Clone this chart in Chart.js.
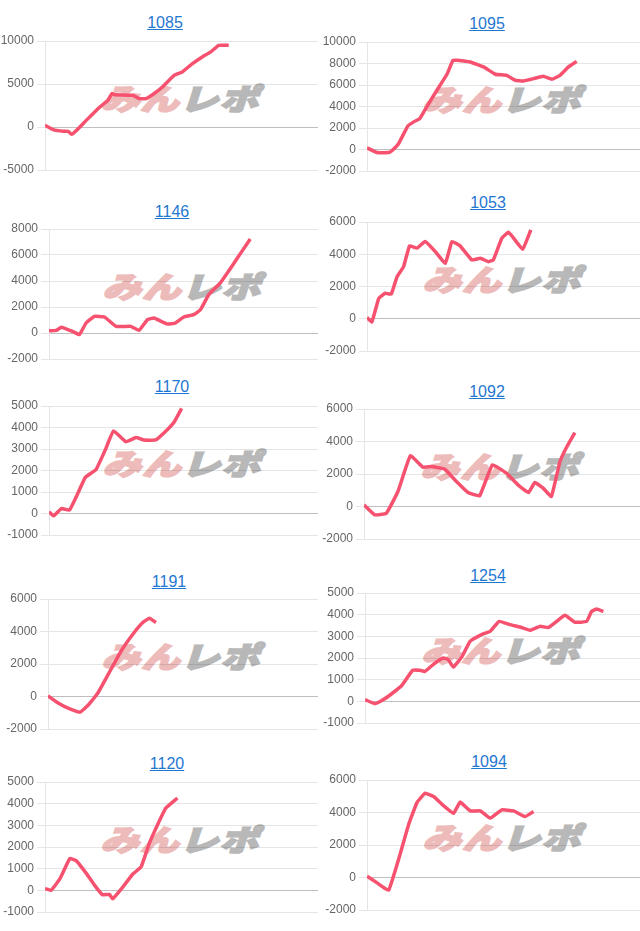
<!DOCTYPE html>
<html>
<head>
<meta charset="utf-8">
<script src="https://cdn.jsdelivr.net/npm/chart.js@4"></script>
<style>
  body { margin: 0; background: #fff; width: 640px; height: 931px; position: relative; overflow: hidden; }
  .cell-title { position: absolute; width: 120px; text-align: center; font: 16px "Liberation Sans", Arial, sans-serif; line-height: 18px; }
  .cell-title a { color: #1f77d0; text-decoration: underline; }
  .mark { position: absolute; width: 200px; height: 40px; text-align: center; font-family: "Noto Sans CJK JP", sans-serif; font-weight: 900; font-size: 32px; line-height: 40px; letter-spacing: 1px; transform: skewX(-18deg) scale(1.2, 0.92); white-space: nowrap; z-index: 0; }
  .mark .mi { color: #eebbbb; -webkit-text-stroke: 2px #eebbbb; }
  .mark .re { color: #b8b8b8; -webkit-text-stroke: 2px #b8b8b8; }
  canvas { position: absolute; z-index: 1; }
</style>
</head>
<body>
<script>
// ids shown above each chart
const titles = ["1085", "1095", "1146", "1053", "1170", "1092", "1191", "1254", "1120", "1094"];

// y axis ranges (min, max, step)
const yMins = [-5000, -2000, -2000, -2000, -1000, -2000, -2000, -1000, -1000, -2000];
const yMaxs = [10000, 10000, 8000, 6000, 5000, 6000, 6000, 5000, 5000, 6000];
const ySteps = [5000, 2000, 2000, 2000, 1000, 2000, 2000, 1000, 1000, 2000];

// progress along the x axis (0-100) and balance values
const x1085 = [0, 3, 6.7, 8.5, 9.7, 11.5, 15.2, 20, 23, 24.6, 25.5, 32.1, 34.5, 37, 40, 43, 47.3, 50.3, 53.9, 57.6, 60.6, 63.6, 67.3];
const y1085 = [200, -300, -500, -500, -850, -400, 800, 2300, 3100, 3900, 3750, 3700, 3300, 3300, 3900, 4650, 6000, 6400, 7350, 8150, 8700, 9500, 9500];

const x1095 = [0, 3.7, 8, 9.1, 11.6, 14.9, 17.1, 19.3, 22, 25.6, 29.3, 31.5, 33, 37.8, 42.7, 47, 51.2, 54.3, 57.3, 61, 64.6, 67.7, 70.7, 73.8, 76.8];
const y1095 = [150, -280, -280, -120, 560, 2170, 2570, 2880, 4020, 5510, 7000, 8300, 8300, 8140, 7680, 7000, 6900, 6440, 6380, 6590, 6810, 6530, 6900, 7680, 8200];

const x1146 = [0, 2.7, 4.6, 7, 9.5, 11.3, 13.8, 16.9, 20.6, 24.9, 30.4, 33.5, 36.6, 39, 44, 47, 50.1, 53.8, 56.3, 59.4, 63.7, 68, 71.7, 74.8];
const y1146 = [180, 200, 440, 260, 50, -130, 770, 1280, 1230, 510, 510, 200, 1030, 1150, 690, 770, 1230, 1410, 1790, 2950, 3850, 5130, 6280, 7230];

const x1053 = [0, 1.8, 4.3, 6.7, 8.9, 11, 13.4, 15.6, 18.3, 21.3, 25, 28.7, 31.1, 34.1, 38.4, 41.5, 44.5, 46.3, 49.4, 51.8, 53.7, 57, 60];
const y1053 = [80, -190, 1260, 1580, 1530, 2610, 3230, 4520, 4380, 4790, 4170, 3440, 4790, 4520, 3650, 3750, 3540, 3650, 5000, 5360, 5000, 4310, 5510];

const x1170 = [0, 1.7, 4.6, 7.6, 10.7, 13.5, 17.5, 20.9, 24, 28.6, 32.3, 35.3, 39.7, 43.3, 46.4, 49.3];
const y1170 = [80, -110, 230, 160, 930, 1680, 2050, 2950, 3840, 3340, 3530, 3420, 3420, 3810, 4230, 4890];

const x1092 = [0, 3.9, 8.1, 12.3, 16.8, 21.4, 24.4, 29.2, 33.5, 37.7, 41.9, 46.5, 51.6, 55.8, 59.6, 61.9, 64.9, 67.9, 71, 73.4, 76.4];
const y1092 = [100, -510, -410, 920, 3120, 2420, 2460, 2300, 1540, 860, 660, 2560, 2050, 1330, 860, 1480, 1130, 620, 2770, 3650, 4550];

const x1191 = [0, 3.3, 7, 11.9, 15, 18.6, 22.9, 27.2, 31.5, 35.1, 37.6, 40];
const y1191 = [40, -350, -680, -960, -510, 250, 1540, 2830, 3850, 4550, 4820, 4550];

const x1254 = [0, 3.6, 6.7, 9.7, 13.3, 17.3, 20, 21.8, 25.5, 28.5, 30.3, 32.1, 35.2, 38.2, 42.4, 45.5, 48.8, 52.7, 56.4, 60, 63.6, 66.7, 69.7, 72.7, 76.4, 80.6, 82.4, 84.2, 86.7];
const y1254 = [80, -110, 80, 350, 720, 1430, 1430, 1380, 1770, 2000, 1920, 1580, 2050, 2770, 3080, 3230, 3690, 3540, 3430, 3280, 3460, 3410, 3690, 3970, 3650, 3690, 4150, 4260, 4150];

const x1120 = [0, 2.2, 5.5, 9.1, 11.5, 15.2, 18.2, 21, 23.6, 24.8, 28.5, 32.1, 35.2, 38.2, 41.2, 44.2, 48.5];
const y1120 = [80, 0, 540, 1470, 1360, 770, 230, -200, -190, -390, 150, 740, 1080, 2170, 3020, 3790, 4260];

const x1094 = [0, 3.7, 7.9, 12.2, 15.2, 18.3, 21.3, 24.4, 27.4, 31.7, 34.1, 37.8, 41.5, 45.1, 49.4, 53.7, 57.9, 61];
const y1094 = [80, -330, -780, 1480, 3230, 4610, 5190, 4980, 4510, 3950, 4640, 4100, 4100, 3650, 4160, 4100, 3750, 4060];

const xSeries = [x1085, x1095, x1146, x1053, x1170, x1092, x1191, x1254, x1120, x1094];
const ySeries = [y1085, y1095, y1146, y1053, y1170, y1092, y1191, y1254, y1120, y1094];

// page placement of each plot: column, plot top/bottom/left, title centre
const cells = [
    { col: 0, top: 41, bottom: 170, left: 45, tx: 165, ty: 23 },
    { col: 1, top: 42, bottom: 171, left: 367, tx: 487, ty: 24 },
    { col: 0, top: 229, bottom: 359, left: 49, tx: 172, ty: 212 },
    { col: 1, top: 222, bottom: 351, left: 367, tx: 488, ty: 203 },
    { col: 0, top: 406, bottom: 535, left: 49, tx: 172, ty: 387 },
    { col: 1, top: 409, bottom: 539, left: 364, tx: 487, ty: 392 },
    { col: 0, top: 599, bottom: 729, left: 48, tx: 169, ty: 582 },
    { col: 1, top: 593, bottom: 723, left: 365, tx: 488, ty: 576 },
    { col: 0, top: 782, bottom: 912, left: 45, tx: 167, ty: 764 },
    { col: 1, top: 780, bottom: 910, left: 367, tx: 489, ty: 762 },
];

Chart.defaults.font.family = "'Liberation Sans', Arial, sans-serif";
Chart.defaults.font.size = 12;
Chart.defaults.color = "#666";

const PAD = 12;

cells.forEach((c, i) => {
    const colLeft = c.col === 0 ? 0 : 320;
    const colRight = c.col === 0 ? 318 : 640;

    // title link
    const t = document.createElement("div");
    t.className = "cell-title";
    t.style.left = c.tx - 60 + "px";
    t.style.top = c.ty - 9 + "px";
    t.innerHTML = '<a href="#">' + titles[i] + "</a>";
    document.body.appendChild(t);

    // watermark behind the line
    const m = document.createElement("div");
    m.className = "mark";
    const cx = (c.left + colRight) / 2 + 2;
    const cy = (c.top + c.bottom) / 2 - 9;
    m.style.left = cx - 100 + "px";
    m.style.top = cy - 20 + "px";
    m.innerHTML = '<span class="mi">みん</span><span class="re">レポ</span>';
    document.body.appendChild(m);

    const canvas = document.createElement("canvas");
    const w = colRight - colLeft;
    const h = c.bottom - c.top + PAD * 2;
    canvas.width = w;
    canvas.height = h;
    canvas.style.left = colLeft + "px";
    canvas.style.top = c.top - PAD + "px";
    canvas.style.width = w + "px";
    canvas.style.height = h + "px";
    document.body.appendChild(canvas);

    const axisWidth = c.left - colLeft;

    new Chart(canvas, {
        type: "line",
        data: {
            datasets: [
                {
                    data: xSeries[i].map((x, k) => ({ x: x, y: ySeries[i][k] })),
                    borderColor: "rgb(246, 82, 112)",
                    borderWidth: 3.5,
                    pointRadius: 0,
                    fill: false,
                    tension: 0.1,
                },
            ],
        },
        options: {
            responsive: false,
            animation: false,
            layout: { padding: { top: PAD, bottom: PAD, left: 0, right: 0 } },
            plugins: { legend: { display: false }, tooltip: { enabled: false } },
            scales: {
                x: { type: "linear", min: 0, max: 100, display: false },
                y: {
                    min: yMins[i],
                    max: yMaxs[i],
                    ticks: { stepSize: ySteps[i], color: "#666", callback: (v) => String(v) },
                    grid: {
                        color: (ctx) => (ctx.tick && ctx.tick.value === 0 ? "rgba(0,0,0,0.25)" : "rgba(0,0,0,0.1)"),
                        tickColor: "rgba(0,0,0,0.1)",
                    },
                    border: { color: "rgba(0,0,0,0.1)" },
                    afterFit: (scale) => {
                        scale.width = axisWidth;
                    },
                },
            },
        },
    });
});
</script>
</body>
</html>
